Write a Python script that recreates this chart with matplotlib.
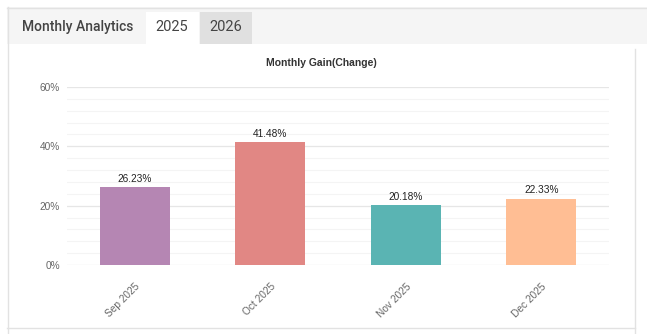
import matplotlib
matplotlib.use("Agg")
from matplotlib import pyplot as plt
from matplotlib.patches import Rectangle
from matplotlib.lines import Line2D

plt.rcParams['font.family'] = ['Roboto', 'DejaVu Sans']

# data
months = ['Sep 2025', 'Oct 2025', 'Nov 2025', 'Dec 2025']
gains = [26.23, 41.48, 20.18, 22.33]
bar_colors = ['#b586b3', '#e18784', '#5ab4b3', '#ffbe94']
yticks = [0, 20, 40, 60]

W, H = 647, 334
fig = plt.figure(figsize=(W / 100, H / 100), dpi=100)
fig.patch.set_facecolor('white')

def box(x, y, w, h, **kw):
    # pixel coords from top-left
    fig.patches.append(Rectangle((x / W, 1 - (y + h) / H), w / W, h / H,
                                 transform=fig.transFigure, figure=fig, **kw))

def hline(x0, x1, y, color='#e2e2e2', lw=1):
    fig.lines.append(Line2D([x0 / W, x1 / W], [1 - y / H, 1 - y / H],
                            transform=fig.transFigure, color=color, lw=lw))

def vline(x, y0, y1, color='#e2e2e2', lw=1):
    fig.lines.append(Line2D([x / W, x / W], [1 - y0 / H, 1 - y1 / H],
                            transform=fig.transFigure, color=color, lw=lw))

# header bar with tabs
box(7, 7, 640, 37, facecolor='#f5f5f5', edgecolor='none')
hline(7, 647, 7.5)
box(146, 12, 53, 32, facecolor='white', edgecolor='none')
box(200, 12, 52, 32, facecolor='#e0e0e0', edgecolor='none')
vline(7.5, 7, 334)
vline(635, 49, 334)
hline(7, 635, 328)

fig.text(22 / W, 1 - 27 / H, 'Monthly Analytics', fontsize=10, fontweight='medium',
         color='#444444', va='center')
fig.text(172 / W, 1 - 27 / H, '2025', fontsize=10.5, color='#444444', va='center', ha='center')
fig.text(226 / W, 1 - 27 / H, '2026', fontsize=10.5, color='#444444', va='center', ha='center')
fig.text(321 / W, 1 - 63 / H, 'Monthly Gain(Change)', fontsize=7.5, fontweight='bold',
         color='#333333', ha='center', va='center', family=['Liberation Sans', 'DejaVu Sans'])

ax = fig.add_axes([67 / W, 1 - 265 / H, 542 / W, 178 / H])
x = list(range(len(months)))
ax.bar(x, gains, width=0.52, color=bar_colors, zorder=3)
for xi, g in zip(x, gains):
    ax.text(xi, g + 1.1, '%.2f%%' % g, ha='center', va='bottom', fontsize=7.3,
            color='#222222', family=['Liberation Sans', 'DejaVu Sans'])

ax.set_xlim(-0.5, 3.5)
ax.set_ylim(0, 60)
ax.set_yticks(yticks)
ax.set_yticklabels(['%d%%' % t for t in yticks])
ax.set_yticks([v for v in range(0, 61, 4) if v % 20], minor=True)
ax.grid(axis='y', which='major', color='#e6e6e6', lw=0.9, zorder=0)
ax.grid(axis='y', which='minor', color='#f4f4f4', lw=0.8, zorder=0)
ax.set_xticks(x)
ax.set_xticklabels(months, rotation=45, ha='right', rotation_mode='anchor')
ax.tick_params(axis='both', which='both', length=0, labelsize=7.3, labelcolor='#666666')
ax.tick_params(axis='y', pad=5)
ax.tick_params(axis='x', pad=12)
for lbl in ax.get_xticklabels() + ax.get_yticklabels():
    lbl.set_family(['Liberation Sans', 'DejaVu Sans'])
for s in ax.spines.values():
    s.set_visible(False)

plt.savefig('out.png', dpi=100)
